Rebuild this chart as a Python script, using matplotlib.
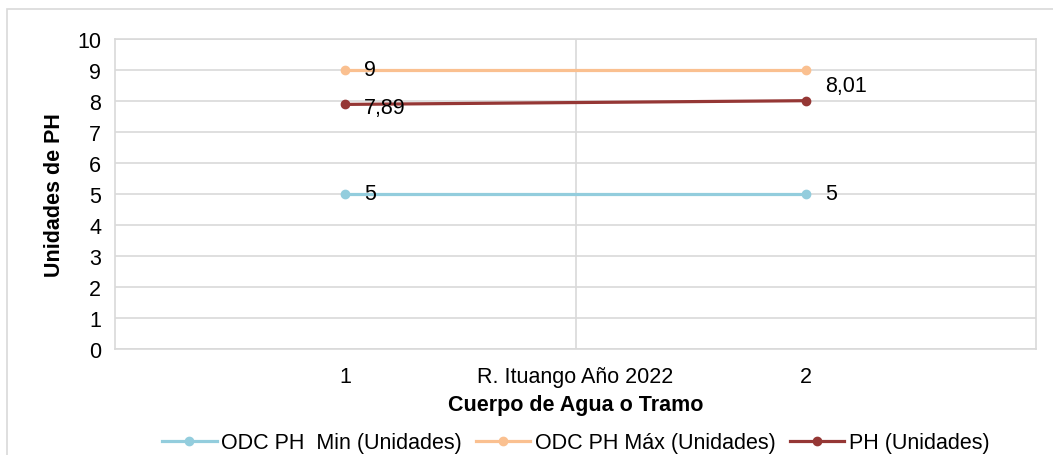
import matplotlib.pyplot as plt
from matplotlib.patches import Rectangle
import matplotlib.transforms as mtransforms

plt.rcParams['font.family'] = ['Liberation Sans', 'DejaVu Sans']

categories = ["1", "2"]
group_label = "R. Ituango Año 2022"
ph_min = [5, 5]
ph_max = [9, 9]
ph = [7.89, 8.01]
series_names = ["ODC PH  Min (Unidades)", "ODC PH Máx (Unidades)", "PH (Unidades)"]
colors = ["#93CDDD", "#FAC090", "#953735"]

fs = 15.5

fig = plt.figure(figsize=(10.53, 4.56), dpi=100)
fig.patches.append(Rectangle((7 / 1053, -0.1), 1.2, 1 - 10 / 456 + 0.1,
                             transform=fig.transFigure, fill=False,
                             edgecolor="#d9d9d9", linewidth=1.2))
ax = fig.add_axes([115 / 1053, 1 - 350 / 456, 921 / 1053, 310 / 456])

x = [1, 2]
for vals, name, c in zip([ph_min, ph_max, ph], series_names, colors):
    ax.plot(x, vals, color=c, linewidth=2.3, marker="o", markersize=6, label=name,
            zorder=3)

# data labels (offsets in pixels)
def label(txt, xv, yv, dx, dy):
    ax.annotate(txt, (xv, yv), xytext=(dx, dy), textcoords="offset pixels",
                va="center", ha="left", fontsize=fs)

label("5", x[0], ph_min[0], 19, 0)
label("5", x[1], ph_min[1], 19, 0)
label("9", x[0], ph_max[0], 19, 0)
label("7,89", x[0], ph[0], 19, -3)
label("8,01", x[1], ph[1], 19, 15)

ax.set_xlim(0.5, 2.5)
ax.set_ylim(0, 10)
ax.set_yticks(range(0, 11))
ax.set_xticks(x)
ax.set_xticklabels(categories)
ax.set_xticks([1.5], minor=True)
ax.grid(axis="y", color="#d9d9d9", linewidth=1.2, zorder=0)
ax.grid(axis="x", which="minor", color="#d9d9d9", linewidth=1.2, zorder=0)
ax.tick_params(axis="both", which="both", length=0, labelsize=fs)
ax.tick_params(axis="y", pad=10)
ax.tick_params(axis="x", pad=12)
for s in ax.spines.values():
    s.set_color("#d9d9d9")
    s.set_linewidth(1.2)

trans = mtransforms.blended_transform_factory(ax.transData, ax.transAxes)
ax.text(1.5, -27 / 310, group_label, transform=trans, ha="center", va="center",
        fontsize=fs)

ax.set_ylabel("Unidades de PH", fontsize=fs, fontweight="bold", labelpad=9)
ax.set_xlabel("Cuerpo de Agua o Tramo", fontsize=fs, fontweight="bold", labelpad=5)

ax.legend(loc="center", bbox_to_anchor=(0.5, -94 / 310), ncol=3, frameon=False,
          fontsize=fs, handlelength=2.55, handletextpad=0.2, columnspacing=0.65)

fig.savefig("out.png", dpi=100)
